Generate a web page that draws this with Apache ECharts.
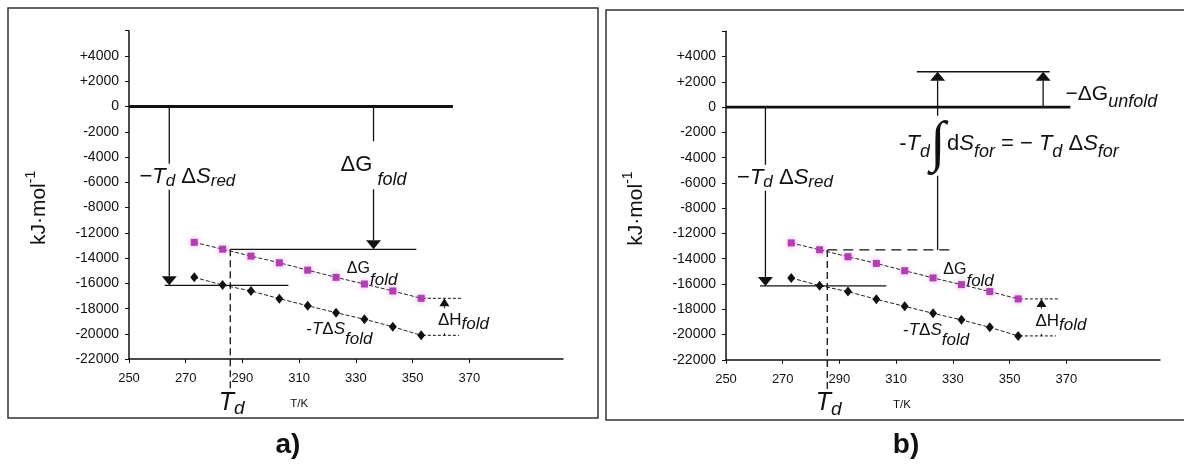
<!DOCTYPE html>
<html><head><meta charset="utf-8">
<script src="https://cdn.jsdelivr.net/npm/echarts@6/dist/echarts.min.js"></script>
<style>html,body{margin:0;padding:0;background:#fff;}#c{width:1184px;height:466px;}</style>
</head><body><div id="c"></div>
<script>
// ---------- data ----------
const temps = [273, 283, 293, 303, 313, 323, 333, 343, 353];
const dGfold = [-12750, -13290, -13840, -14370, -14950, -15520, -16050, -16600, -17180];
const negTdSfold = [-15520, -16130, -16600, -17210, -17770, -18320, -18840, -19430, -20110];
const yTickValues = [-22000, -20000, -18000, -16000, -14000, -12000, -8000, -6000, -4000, -2000, 0, 2000, 4000, 6000];
const yTickLabels = ['-22000', '-20000', '-18000', '-16000', '-14000', '-12000', '-8000', '-6000', '-4000', '-2000', '0', '+2000', '+4000', ''];
const xTickValues = [250, 270, 290, 310, 330, 350, 370];
const xRange = [250, 403];
const Td = 285.7;
const dGatTd = -13300;
const tdSred = -16150;
const dGunfold = 2800;

// annotation segments: [T1, kJ1, T2, kJ2, style, arrowAtEnd]
const segmentsA = [
  [250, 0, 364.2, 0, 'thick', 0],
  [264.2, 0, 264.2, tdSred, 'solid', 1],
  [262.6, tdSred, 306.2, tdSred, 'solid', 0],
  [336.2, 0, 336.2, dGatTd, 'solid', 1],
  [Td, dGatTd, 351.3, dGatTd, 'solid', 0],
  [Td, dGatTd, Td, -24500, 'vdash', 0],
  [353.6, dGfold[8], 367.6, dGfold[8], 'sdash', 0],
  [353.6, negTdSfold[8], 366.3, negTdSfold[8], 'sdash', 0],
  [361.2, negTdSfold[8], 361.2, dGfold[8], 'thin', 2]
];
const segmentsB = [
  [250, 0, 371.4, 0, 'thick', 0],
  [317.3, dGunfold, 364.1, dGunfold, 'solid', 0],
  [324.6, dGatTd, 324.6, dGunfold, 'solid', 1],
  [361.8, 0, 361.8, dGunfold, 'solid', 1],
  [263.9, 0, 263.9, tdSred, 'solid', 1],
  [262.0, tdSred, 306.5, tdSred, 'solid', 0],
  [Td, dGatTd, 330.8, dGatTd, 'ldash', 0],
  [Td, dGatTd, Td, -24500, 'vdash', 0],
  [353.6, dGfold[8], 367.6, dGfold[8], 'sdash', 0],
  [353.6, negTdSfold[8], 366.3, negTdSfold[8], 'sdash', 0],
  [361.2, negTdSfold[8], 361.2, dGfold[8], 'thin', 2]
];

// annotation labels: [T, kJ, text, format, align, whiteBackground]
const labelsA = [
  [253.0, -5550, '{m|−}{mi|T}{s|d}{m| Δ}{mi|S}{s|red}', 'big', 'left', 1],
  [323.9, -4650, '{m|ΔG}{s| fold}', 'bigDrop', 'left', 1],
  [326.8, -14840, '{m|ΔG}{s|fold}', 'small12', 'left', 0],
  [312.5, -19650, '{m|-}{mi|T}{m|Δ}{mi|S}{s|fold}', 'small11', 'left', 0],
  [358.2, -18950, '{m|ΔH}{s|fold}', 'small4', 'left', 1],
  [281.6, -25450, '{mi|T}{s|d}', 'td', 'left', 0],
  [310, -25550, '{m|T/K}', 'axis', 'center', 0]
];
const labelsB = [
  [253.2, -5600, '{m|−}{mi|T}{s|d}{m| Δ}{mi|S}{s|red}', 'big', 'left', 1],
  [321.9, -2900, '{m|-}{mi|T}{s|d}', 'eq', 'right', 0],
  [324.6, -3050, '{m|∫}', 'integral', 'center', 1],
  [327.9, -2900, '{m|d}{mi|S}{s|for}{m| = − }{mi|T}{s|d}{m| Δ}{mi|S}{s|for}', 'eq', 'left', 0],
  [369.7, 1050, '{m|−ΔG}{s|unfold}', 'unfold', 'left', 0],
  [326.6, -14840, '{m|ΔG}{s|fold}', 'small12', 'left', 0],
  [312.4, -19650, '{m|-}{mi|T}{m|Δ}{mi|S}{s|fold}', 'small11', 'left', 0],
  [358.4, -18950, '{m|ΔH}{s|fold}', 'small4', 'left', 1],
  [281.6, -25450, '{mi|T}{s|d}', 'td', 'left', 0],
  [312, -25550, '{m|T/K}', 'axis', 'center', 0]
];

// ---------- styles ----------
const F = '"Liberation Sans", Arial, Helvetica, sans-serif';
const FSERIF = '"Liberation Serif", "DejaVu Serif", serif';
const INK = '#111';
const segStyles = {
  thick: { w: 2.8, dash: null },
  solid: { w: 1.3, dash: null },
  thin: { w: 1, dash: null },
  vdash: { w: 1.3, dash: [7, 4] },
  ldash: { w: 1.3, dash: [10, 6] },
  sdash: { w: 1, dash: [3, 2] }
};
const arrowSizes = { 1: [15, 9], 2: [10, 8] };
const labelFormats = {
  big: [22, 17, 4],
  bigDrop: [22, 18, 15],
  small12: [16, 17, 12],
  small11: [17, 17, 10],
  small4: [17, 17, 4],
  td: [25, 19, 6],
  axis: [11.5, 11.5, 0],
  eq: [22, 18, 8],
  unfold: [21, 18, 8],
  integral: [56, 10, 0, FSERIF]
};

// piecewise scale following the printed tick labels (evenly spaced ticks)
function yIdx(v) {
  const t = yTickValues;
  if (v <= t[0]) return (v - t[0]) / (t[1] - t[0]);
  for (let i = 0; i < t.length - 1; i++) {
    if (v <= t[i + 1]) return i + (v - t[i]) / (t[i + 1] - t[i]);
  }
  const n = t.length - 1;
  return n + (v - t[n]) / (t[n] - t[n - 1]);
}

function richFor(key) {
  const [ms, ss, drop, fam] = labelFormats[key];
  const L = Math.max(ms + 4, ss + 2 * Math.abs(drop));
  const sh = L - 2 * Math.abs(drop);
  const base = { fontFamily: fam || F, fill: INK, color: INK };
  return {
    m: Object.assign({}, base, { fontSize: ms, lineHeight: L }),
    mi: Object.assign({}, base, { fontSize: ms, lineHeight: L, fontStyle: 'italic' }),
    s: Object.assign({}, base, { fontSize: ss, lineHeight: sh, fontStyle: 'italic', verticalAlign: 'bottom' })
  };
}

function segSeries(g, segs) {
  return {
    type: 'custom', xAxisIndex: g, yAxisIndex: g, silent: true, z: 3,
    data: segs.map(s => [s[0], yIdx(s[1]), s[2], yIdx(s[3])]),
    encode: { x: [0, 2], y: [1, 3] },
    renderItem: (params, api) => {
      const s = segs[params.dataIndex];
      const p1 = api.coord([api.value(0), api.value(1)]);
      const p2 = api.coord([api.value(2), api.value(3)]);
      const st = segStyles[s[4]];
      const children = [];
      let end = p2;
      if (s[5]) {
        const [aw, ah] = arrowSizes[s[5]];
        const dx = p2[0] - p1[0], dy = p2[1] - p1[1];
        const len = Math.hypot(dx, dy) || 1;
        const ux = dx / len, uy = dy / len;
        const bx = p2[0] - ux * ah, by = p2[1] - uy * ah;
        end = [bx, by];
        children.push({
          type: 'polygon',
          shape: { points: [[p2[0], p2[1]], [bx - uy * aw / 2, by + ux * aw / 2], [bx + uy * aw / 2, by - ux * aw / 2]] },
          style: { fill: INK }
        });
      }
      children.unshift({
        type: 'line',
        shape: { x1: p1[0], y1: p1[1], x2: end[0], y2: end[1] },
        style: { stroke: INK, lineWidth: st.w, lineDash: st.dash || null, fill: null }
      });
      return { type: 'group', children };
    }
  };
}

function labelSeries(g, specs) {
  return {
    type: 'custom', xAxisIndex: g, yAxisIndex: g, silent: true, z: 6,
    data: specs.map(s => [s[0], yIdx(s[1])]),
    encode: { x: 0, y: 1 },
    renderItem: (params, api) => {
      const s = specs[params.dataIndex];
      const p = api.coord([api.value(0), api.value(1)]);
      const style = {
        text: s[2], rich: richFor(s[3]), align: s[4], verticalAlign: 'middle',
        fill: INK, fontFamily: F
      };
      if (s[5]) { style.backgroundColor = '#fff'; style.padding = s[3] === 'integral' ? [0, 0] : [0, 2]; }
      return { type: 'text', x: p[0], y: p[1], style };
    }
  };
}

function dataSeries(g) {
  const ls = { color: '#222', width: 1, type: [4, 2] };
  return [{
    type: 'line', xAxisIndex: g, yAxisIndex: g, silent: true, z: 4,
    data: temps.map((t, i) => [t, yIdx(dGfold[i])]),
    symbol: 'rect', symbolSize: 7, showSymbol: true,
    itemStyle: { color: '#b43cb4', shadowBlur: 6, shadowColor: 'rgba(215,110,215,0.65)' }, lineStyle: ls
  }, {
    type: 'line', xAxisIndex: g, yAxisIndex: g, silent: true, z: 4,
    data: temps.map((t, i) => [t, yIdx(negTdSfold[i])]),
    symbol: 'diamond', symbolSize: [8, 10], showSymbol: true,
    itemStyle: { color: '#111' }, lineStyle: ls
  }];
}

const grids = [
  { left: 129, top: 30.7, width: 434, height: 328.5 },
  { left: 726, top: 31.3, width: 434, height: 328.5 }
];

const option = {
  animation: false,
  backgroundColor: '#fff',
  grid: grids,
  xAxis: [0, 1].map(g => ({
    type: 'value', gridIndex: g, min: xRange[0], max: xRange[1],
    axisLine: { onZero: false, lineStyle: { color: INK, width: 1.5 } },
    axisTick: { customValues: xTickValues, length: 4, lineStyle: { color: INK } },
    axisLabel: { customValues: xTickValues, margin: 13, fontSize: 13, color: INK, fontFamily: F },
    splitLine: { show: false }
  })),
  yAxis: [0, 1].map(g => ({
    type: 'value', gridIndex: g, min: 0, max: yTickValues.length - 1, interval: 1,
    axisLine: { onZero: false, lineStyle: { color: INK, width: 1.5 } },
    axisTick: { length: 4, lineStyle: { color: INK } },
    axisLabel: { margin: 10, fontSize: 14, color: INK, fontFamily: F, formatter: v => yTickLabels[Math.round(v)] },
    splitLine: { show: false },
    name: '{m|kJ·mol}{s|-1}', nameLocation: 'middle', nameRotate: 90, nameGap: 75,
    nameTextStyle: {
      padding: [0, 26, 0, 0],
      rich: {
        m: { fontSize: 21, lineHeight: 30, fontFamily: F, color: INK },
        s: { fontSize: 14, lineHeight: 12, fontFamily: F, color: INK, verticalAlign: 'top' }
      }
    }
  })),
  graphic: [
    { type: 'rect', silent: true, shape: { x: 8, y: 8, width: 590, height: 410 }, style: { fill: null, stroke: '#333', lineWidth: 1.5 } },
    { type: 'rect', silent: true, shape: { x: 606, y: 10, width: 620, height: 410 }, style: { fill: null, stroke: '#333', lineWidth: 1.5 } },
    { type: 'text', silent: true, x: 288, y: 445, style: { text: 'a)', font: 'bold 28px ' + F, fill: INK, align: 'center', verticalAlign: 'middle', textAlign: 'center', textVerticalAlign: 'middle' } },
    { type: 'text', silent: true, x: 906, y: 445, style: { text: 'b)', font: 'bold 28px ' + F, fill: INK, align: 'center', verticalAlign: 'middle', textAlign: 'center', textVerticalAlign: 'middle' } }
  ],
  series: [].concat(
    dataSeries(0), dataSeries(1),
    [segSeries(0, segmentsA), segSeries(1, segmentsB), labelSeries(0, labelsA), labelSeries(1, labelsB)]
  )
};

const chart = echarts.init(document.getElementById('c'), null, { renderer: 'canvas' });
chart.setOption(option);
</script></body></html>
